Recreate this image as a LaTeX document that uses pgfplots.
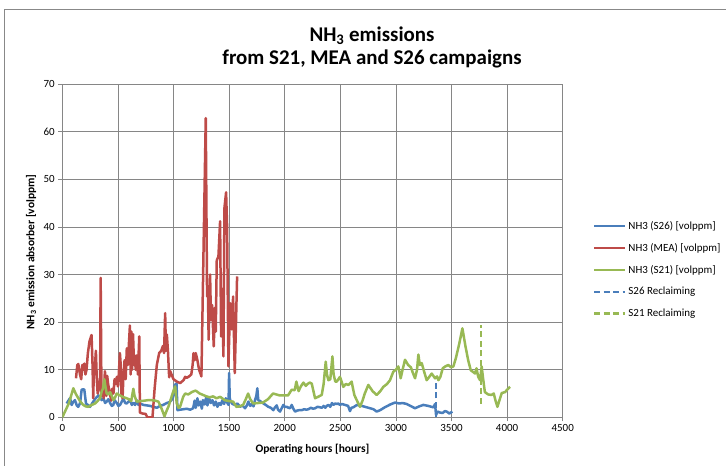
\documentclass[border=0pt]{standalone}
\usepackage{pgfplots}
\pgfplotsset{compat=1.18}
\usepackage{fontspec}
\setmainfont{Carlito}

\definecolor{gridgray}{HTML}{868686}
\definecolor{frame}{HTML}{888888}
\definecolor{sBlue}{HTML}{4A7EBB}
\definecolor{sRed}{HTML}{BE4B48}
\definecolor{sGreen}{HTML}{98B954}

\begin{document}
\begin{tikzpicture}
\path[use as bounding box] (0,0) rectangle (726bp,466bp);
% chart frame
\draw[frame, line width=0.9bp] (4.5bp,0) -- (4.5bp,457bp) -- (726bp,457bp);

% titles
\node[anchor=base, font=\bfseries\fontsize{21}{25}\selectfont] at (372bp,424.3bp) {NH\textsubscript{3} emissions};
\node[anchor=base, font=\bfseries\fontsize{21}{25}\selectfont] at (372bp,401bp) {from S21, MEA and S26 campaigns};
\node[rotate=90, font=\bfseries\fontsize{11.5}{13}\selectfont] at (31bp,214bp) {NH\textsubscript{3} emission absorber [volppm]};
\node[font=\bfseries\fontsize{11.5}{13}\selectfont] at (312.5bp,17bp) {Operating hours [hours]};

\begin{axis}[
  at={(62.3bp,48.7bp)}, anchor=south west,
  scale only axis, width=500.4bp, height=333bp,
  xmin=0, xmax=4500, ymin=0, ymax=70,
  xtick={0,500,...,4500}, ytick={0,10,...,70},
  grid=major,
  major grid style={gridgray, line width=0.8bp},
  axis line style={gridgray, line width=0.8bp},
  tick style={gridgray, line width=0.8bp},
  tick align=outside, major tick length=4bp, tick pos=left,
  ticklabel style={font=\fontsize{11}{13}\selectfont},
  /pgf/number format/assume math mode=true,
  /pgf/number format/1000 sep={},
  every axis plot/.append style={line width=2.5bp, line join=round},
  legend style={at={(1.06,0.595)}, anchor=north west, draw=none, fill=none,
    font=\fontsize{11}{13}\selectfont, row sep=8.5bp, inner sep=0pt},
  legend cell align=left,
  legend image code/.code={\draw[#1] (0bp,0bp) -- (31bp,0bp);},
]
% NH3, S26 campaign
\addplot[sBlue] coordinates {
(39,2.9) (55,3.5) (69,4.0) (84,2.6) (100,3.3) (114,3.6) (130,2.5) (144,2.2) (160,3.0) (174,5.8) (190,5.9) (198,5.8) (213,2.9) (230,2.6) (249,2.2) (265,2.8) (279,3.3) (300,4.0) (324,4.6) (340,4.2) (354,3.6) (370,4.0) (385,3.0) (399,3.3) (415,3.8) (430,3.0) (445,2.4) (459,2.6) (470,3.6) (490,3.0) (505,2.4) (519,2.6) (535,3.3) (549,4.0) (565,3.0) (579,2.9) (595,3.3) (610,3.6) (625,2.6) (640,3.0) (655,2.6) (669,3.6) (685,2.6) (698,2.9) (730,2.6) (760,2.5) (790,2.4) (817,2.2) (850,2.0) (880,2.4) (907,2.6) (940,3.0) (965,3.2) (982,3.6) (1000,4.5) (1012,6.8) (1027,7.1) (1036,1.5) (1060,1.6) (1090,1.7) (1120,1.8) (1150,1.6) (1177,1.9) (1190,3.5) (1200,2.0) (1215,4.0) (1225,2.5) (1240,3.3) (1255,1.8) (1265,3.6) (1280,2.7) (1295,4.3) (1305,2.5) (1320,4.0) (1335,3.0) (1350,3.6) (1365,2.5) (1380,3.3) (1395,2.2) (1410,3.0) (1425,2.6) (1440,3.6) (1455,2.8) (1470,4.0) (1485,3.0) (1495,2.6) (1500,9.3) (1506,4.0) (1514,3.3) (1530,2.8) (1553,2.6) (1575,2.9) (1598,2.2) (1620,2.5) (1643,1.9) (1660,2.5) (1673,3.3) (1690,2.4) (1705,2.8) (1720,2.3) (1733,3.6) (1745,4.5) (1754,6.1) (1762,3.6) (1780,3.4) (1808,2.9) (1830,2.6) (1853,2.2) (1875,2.0) (1898,1.5) (1910,2.0) (1928,2.5) (1940,1.6) (1958,1.2) (1975,2.0) (1988,2.6) (2000,2.2) (2018,2.2) (2035,2.0) (2048,1.9) (2063,2.6) (2078,1.8) (2093,1.2) (2110,1.4) (2130,1.5) (2153,1.5) (2175,1.7) (2195,1.6) (2213,1.7) (2235,2.0) (2255,1.8) (2273,1.9) (2295,2.2) (2318,2.1) (2335,2.0) (2350,2.4) (2365,2.0) (2378,2.4) (2395,2.6) (2410,2.2) (2425,3.0) (2438,2.6) (2455,2.9) (2470,2.8) (2483,2.9) (2497,2.6) (2515,2.8) (2543,2.6) (2570,2.4) (2587,1.3) (2600,2.0) (2617,2.1) (2650,2.6) (2692,2.4) (2738,2.1) (2798,1.7) (2827,1.2) (2858,1.5) (2900,2.1) (2950,2.7) (2992,3.1) (3030,2.9) (3060,3.0) (3097,2.8) (3130,2.4) (3172,1.9) (3210,2.3) (3247,2.6) (3290,2.4) (3337,2.1) (3352,2.8) (3361,0.5) (3375,1.2) (3397,1.0) (3420,0.9) (3440,1.3) (3457,1.2) (3480,0.8) (3508,1.2)
};
\addlegendentry{NH3 (S26) [volppm]}
% NH3, MEA campaign
\addplot[sRed] coordinates {
(123,8.2) (135,11.0) (144,11.2) (159,9.0) (170,8.0) (180,11.0) (190,10.0) (198,11.3) (208,9.0) (218,10.0) (230,13.5) (245,16.0) (263,17.3) (272,11.0) (278,4.0) (285,11.0) (292,10.0) (302,14.0) (310,8.0) (318,5.0) (330,6.0) (340,8.5) (345,29.3) (352,4.5) (362,6.0) (372,4.0) (383,9.7) (390,8.0) (396,4.5) (404,8.7) (412,7.0) (420,6.0) (432,4.5) (440,3.5) (448,6.0) (460,5.0) (470,8.0) (480,7.0) (490,8.5) (500,6.5) (508,9.0) (518,13.5) (524,11.5) (532,5.0) (542,4.0) (550,9.0) (560,12.0) (570,8.0) (580,14.5) (590,11.0) (598,15.0) (608,19.3) (615,9.0) (622,18.0) (628,10.0) (636,17.5) (645,11.0) (652,13.0) (660,10.0) (670,13.0) (680,9.0) (692,17.0) (698,1.0) (720,0.8) (750,0.7) (765,0.0) (790,0.0) (811,0.0) (830,6.0) (850,11.0) (871,13.5) (890,14.0) (905,15.0) (915,13.5) (925,21.9) (932,14.0) (940,17.4) (950,14.0) (961,8.4) (970,9.7) (1000,8.0) (1030,7.5) (1060,7.2) (1090,7.8) (1105,8.5) (1120,8.3) (1140,8.6) (1160,9.0) (1172,11.0) (1180,13.5) (1190,12.0) (1200,13.5) (1215,12.0) (1230,10.0) (1251,8.6) (1290,62.9) (1302,25.4) (1310,26.0) (1316,16.3) (1329,30.0) (1337,20.5) (1347,23.6) (1362,14.9) (1372,23.0) (1380,18.0) (1389,33.0) (1404,33.8) (1419,41.2) (1428,17.0) (1437,27.0) (1449,12.8) (1458,44.0) (1473,47.3) (1482,40.0) (1494,10.7) (1509,24.0) (1524,18.5) (1536,25.4) (1551,9.3) (1572,29.6)
};
\addlegendentry{NH3 (MEA) [volppm]}
% NH3, S21 campaign
\addplot[sGreen] coordinates {
(0,0) (30,1.5) (60,3.0) (99,6.1) (120,5.0) (144,4.0) (165,3.2) (189,2.6) (210,2.3) (234,2.2) (265,2.6) (294,2.9) (320,3.5) (339,4.0) (355,5.5) (365,6.0) (378,8.0) (388,6.5) (399,5.0) (415,4.8) (430,5.3) (445,4.5) (459,3.6) (475,4.2) (489,5.0) (510,4.7) (534,4.4) (555,4.2) (579,4.0) (600,3.8) (620,3.4) (639,6.0) (650,4.5) (669,3.3) (700,3.4) (740,3.5) (770,3.6) (804,3.6) (835,3.5) (864,3.3) (890,2.0) (919,0.2) (940,1.5) (954,2.2) (985,4.5) (1008,6.1) (1015,6.5) (1029,2.9) (1045,2.0) (1059,2.2) (1087,4.3) (1105,5.0) (1132,4.8) (1165,5.3) (1195,5.6) (1207,5.5) (1235,5.0) (1266,4.7) (1296,4.4) (1326,4.2) (1356,4.4) (1386,4.0) (1420,4.3) (1461,3.6) (1500,3.4) (1536,3.3) (1566,2.2) (1595,2.3) (1626,2.6) (1650,3.8) (1671,5.0) (1690,3.8) (1716,2.9) (1760,3.0) (1805,3.1) (1850,3.8) (1895,5.0) (1925,4.8) (1955,4.6) (2000,4.6) (2030,4.6) (2063,5.8) (2090,5.7) (2105,7.5) (2125,5.5) (2145,6.5) (2168,7.3) (2190,6.6) (2205,7.0) (2225,7.3) (2243,7.1) (2273,4.0) (2300,4.3) (2333,4.7) (2350,7.0) (2369,11.7) (2380,9.0) (2393,7.8) (2410,8.0) (2429,12.8) (2440,9.0) (2455,7.5) (2468,7.5) (2497,8.5) (2527,6.4) (2550,7.0) (2573,6.8) (2602,7.5) (2626,4.7) (2650,3.5) (2677,2.2) (2700,3.5) (2720,5.0) (2752,6.8) (2790,5.5) (2827,4.7) (2860,5.5) (2887,6.4) (2920,7.0) (2947,7.8) (2977,9.6) (3000,10.0) (3022,10.7) (3043,8.2) (3060,10.0) (3082,12.1) (3110,11.0) (3135,10.5) (3150,9.5) (3172,8.2) (3190,10.0) (3202,13.2) (3215,11.0) (3232,11.4) (3255,9.5) (3277,7.8) (3300,8.5) (3322,9.2) (3352,8.2) (3370,8.6) (3382,7.8) (3400,8.5) (3421,10.3) (3445,10.7) (3472,11.0) (3495,10.5) (3517,10.7) (3540,12.5) (3570,15.5) (3598,18.7) (3625,15.0) (3650,12.0) (3673,9.9) (3690,9.6) (3712,9.2) (3725,10.3) (3740,8.5) (3757,7.8) (3771,10.7) (3785,8.0) (3800,5.3) (3830,4.8) (3860,4.7) (3880,5.0) (3896,3.5) (3913,2.2) (3930,3.5) (3952,5.1) (3982,5.3) (4000,5.8) (4027,6.4)
};
\addlegendentry{NH3 (S21) [volppm]}
% reclaiming markers
\addplot[sBlue, dash pattern=on 6bp off 3.5bp] coordinates {(3360,0) (3360,7.2)};
\addlegendentry{S26 Reclaiming}
\addplot[sGreen, dash pattern=on 6bp off 3.5bp] coordinates {(3765,2.9) (3765,19.3)};
\addlegendentry{S21 Reclaiming}
\end{axis}
\end{tikzpicture}
\end{document}
